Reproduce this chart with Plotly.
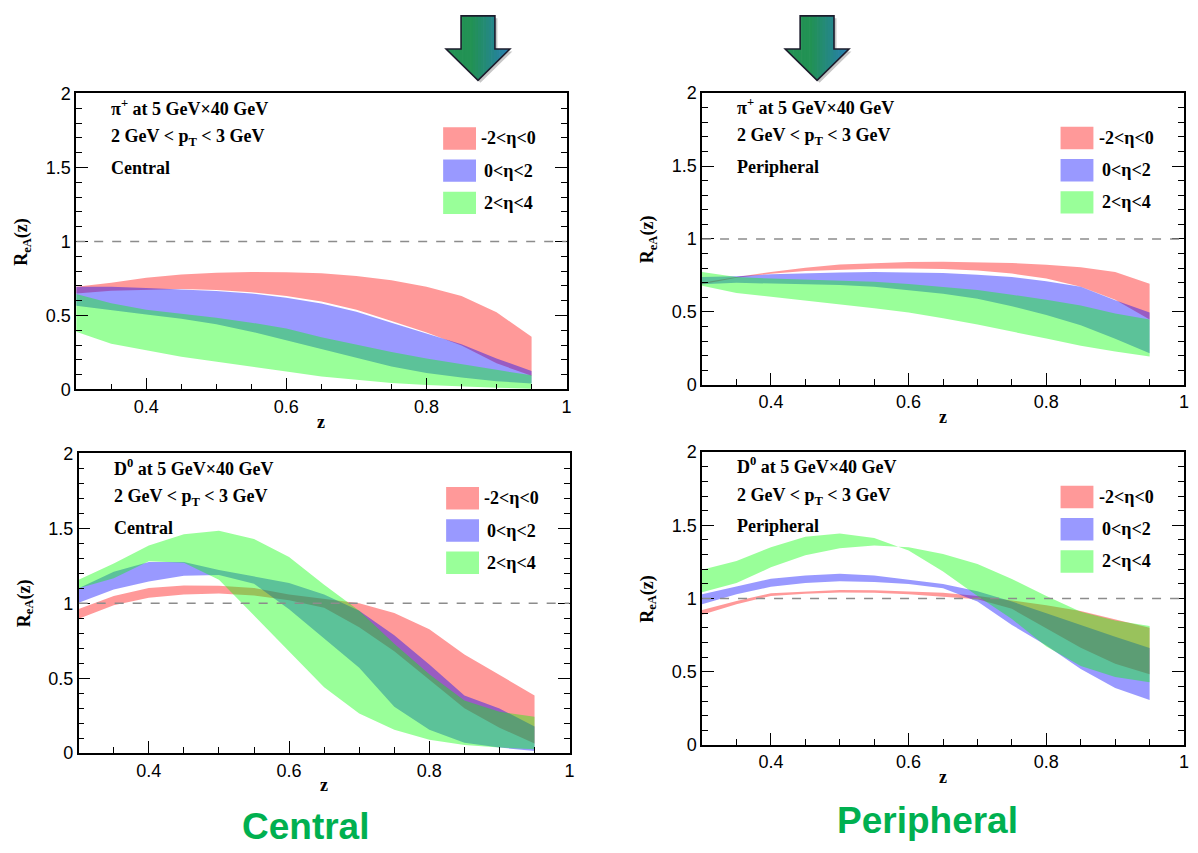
import plotly.graph_objects as go

W, H = 1198, 853

# ---------------- data ----------------
z = [0.30, 0.35, 0.40, 0.45, 0.50, 0.55, 0.60, 0.65, 0.70, 0.75, 0.80, 0.85, 0.90, 0.95]
band_names = ["-2<η<0", "0<η<2", "2<η<4"]

# pi+ central
pi_c_red_up = [0.693, 0.720, 0.755, 0.777, 0.788, 0.794, 0.792, 0.785, 0.766, 0.737, 0.693, 0.631, 0.521, 0.355]
pi_c_red_lo = [0.648, 0.667, 0.675, 0.678, 0.671, 0.656, 0.631, 0.594, 0.539, 0.462, 0.385, 0.297, 0.176, 0.092]
pi_c_blue_up = [0.693, 0.693, 0.686, 0.675, 0.665, 0.648, 0.620, 0.580, 0.525, 0.450, 0.375, 0.305, 0.209, 0.125]
pi_c_blue_lo = [0.565, 0.535, 0.506, 0.477, 0.440, 0.390, 0.335, 0.275, 0.213, 0.154, 0.110, 0.081, 0.055, 0.040]
pi_c_green_up = [0.645, 0.583, 0.539, 0.513, 0.484, 0.451, 0.411, 0.352, 0.301, 0.253, 0.209, 0.169, 0.132, 0.095]
pi_c_green_lo = [0.390, 0.308, 0.264, 0.220, 0.187, 0.154, 0.121, 0.088, 0.066, 0.044, 0.029, 0.020, 0.011, 0.005]

# pi+ peripheral
pi_p_red_up = [0.700, 0.740, 0.774, 0.803, 0.825, 0.836, 0.843, 0.845, 0.843, 0.836, 0.823, 0.807, 0.774, 0.693]
pi_p_red_lo = [0.690, 0.735, 0.762, 0.780, 0.789, 0.796, 0.798, 0.794, 0.785, 0.763, 0.729, 0.673, 0.584, 0.448]
pi_p_blue_up = [0.740, 0.745, 0.758, 0.767, 0.771, 0.774, 0.771, 0.767, 0.756, 0.740, 0.711, 0.673, 0.580, 0.497]
pi_p_blue_lo = [0.690, 0.700, 0.697, 0.691, 0.685, 0.673, 0.650, 0.625, 0.590, 0.540, 0.480, 0.410, 0.317, 0.218]
pi_p_green_up = [0.774, 0.740, 0.729, 0.722, 0.718, 0.707, 0.691, 0.673, 0.651, 0.618, 0.584, 0.544, 0.490, 0.448]
pi_p_green_lo = [0.680, 0.630, 0.604, 0.578, 0.550, 0.525, 0.497, 0.457, 0.414, 0.367, 0.318, 0.268, 0.230, 0.196]

# D0 central
d_c_red_up = [0.961, 1.048, 1.102, 1.119, 1.117, 1.102, 1.058, 1.030, 1.000, 0.935, 0.827, 0.658, 0.520, 0.385]
d_c_red_lo = [0.896, 0.987, 1.037, 1.058, 1.065, 1.052, 1.020, 0.970, 0.840, 0.680, 0.490, 0.300, 0.170, 0.065]
d_c_blue_up = [1.100, 1.210, 1.276, 1.276, 1.222, 1.178, 1.135, 1.059, 0.950, 0.787, 0.591, 0.385, 0.298, 0.178]
d_c_blue_lo = [1.004, 1.091, 1.146, 1.183, 1.189, 1.130, 0.960, 0.765, 0.570, 0.310, 0.157, 0.070, 0.037, 0.015]
d_c_green_up = [1.157, 1.265, 1.385, 1.461, 1.483, 1.428, 1.309, 1.124, 0.950, 0.730, 0.526, 0.352, 0.276, 0.243]
d_c_green_lo = [1.100, 1.167, 1.280, 1.270, 1.157, 0.917, 0.678, 0.440, 0.265, 0.157, 0.090, 0.054, 0.037, 0.026]

# D0 peripheral
d_p_red_up = [0.922, 0.984, 1.036, 1.049, 1.058, 1.056, 1.049, 1.040, 1.018, 0.985, 0.955, 0.915, 0.860, 0.800]
d_p_red_lo = [0.889, 0.962, 1.018, 1.033, 1.042, 1.040, 1.029, 1.013, 0.995, 0.930, 0.800, 0.665, 0.555, 0.484]
d_p_blue_up = [1.029, 1.084, 1.136, 1.158, 1.169, 1.158, 1.129, 1.100, 1.050, 0.980, 0.900, 0.818, 0.740, 0.662]
d_p_blue_lo = [0.962, 1.029, 1.080, 1.107, 1.118, 1.113, 1.100, 1.070, 0.980, 0.820, 0.680, 0.520, 0.390, 0.307]
d_p_green_up = [1.196, 1.256, 1.351, 1.422, 1.444, 1.413, 1.329, 1.184, 1.018, 0.860, 0.673, 0.540, 0.465, 0.429]
d_p_green_lo = [1.044, 1.107, 1.213, 1.296, 1.344, 1.362, 1.350, 1.305, 1.236, 1.133, 1.018, 0.910, 0.850, 0.813]

x_ticks = [0.4, 0.6, 0.8, 1.0]
y_ticks = [0, 0.5, 1, 1.5, 2]

# ---------------- styling ----------------
FILL = ["rgba(255,0,0,0.4)", "rgba(0,0,255,0.4)", "rgba(0,255,0,0.4)"]
LEG = ["rgb(255,153,153)", "rgb(153,153,255)", "rgb(153,255,153)"]
SERIF = "Liberation Serif, Times New Roman, serif"
SANS = "Liberation Sans, Arial, sans-serif"


def px(x):
    return x / W


def py(y):
    return 1 - y / H


# panel frames in pixels: left, right, top, bottom
panels = [
    dict(box=(76.5, 569, 85.5, 388.5), title="π<sup>+</sup> at 5 GeV×40 GeV", cent="Central",
         bands=[(pi_c_red_up, pi_c_red_lo), (pi_c_blue_up, pi_c_blue_lo), (pi_c_green_up, pi_c_green_lo)]),
    dict(box=(705, 1189, 85, 384), title="π<sup>+</sup> at 5 GeV×40 GeV", cent="Peripheral",
         bands=[(pi_p_red_up, pi_p_red_lo), (pi_p_blue_up, pi_p_blue_lo), (pi_p_green_up, pi_p_green_lo)]),
    dict(box=(79, 572, 454, 761), title="D<sup>0</sup> at 5 GeV×40 GeV", cent="Central",
         bands=[(d_c_red_up, d_c_red_lo), (d_c_blue_up, d_c_blue_lo), (d_c_green_up, d_c_green_lo)]),
    dict(box=(705, 1189, 452.7, 752.7), title="D<sup>0</sup> at 5 GeV×40 GeV", cent="Peripheral",
         bands=[(d_p_red_up, d_p_red_lo), (d_p_blue_up, d_p_blue_lo), (d_p_green_up, d_p_green_lo)]),
]

fig = go.Figure()
layout = dict(width=W, height=H, autosize=False, margin=dict(l=0, r=0, t=0, b=0),
              paper_bgcolor="white", plot_bgcolor="white", showlegend=False)
shapes = []
annotations = []

for i, p in enumerate(panels):
    n = "" if i == 0 else str(i + 1)
    xa, ya = "x" + n, "y" + n
    L, R, T, B = p["box"]
    for k, (up, lo) in enumerate(p["bands"]):
        fig.add_trace(go.Scatter(x=z + z[::-1], y=up + lo[::-1], mode="lines", fill="toself",
                                 fillcolor=FILL[k], line=dict(width=0), hoverinfo="skip",
                                 name=band_names[k], xaxis=xa, yaxis=ya))
    layout["xaxis" + n] = dict(
        domain=[px(L), px(R)], anchor=ya, range=[0.3, 1.0], tickvals=x_ticks,
        ticktext=["0.4", "0.6", "0.8", "1"], ticks="inside", ticklen=12, tickwidth=1,
        tickcolor="black", showline=True, linecolor="black", linewidth=1.5, mirror=True,
        showgrid=False, zeroline=False, tickfont=dict(family=SANS, size=18, color="black"),
        minor=dict(dtick=0.05, tick0=0, ticks="inside", ticklen=6, tickcolor="black", showgrid=False),
        fixedrange=True)
    layout["yaxis" + n] = dict(
        domain=[py(B), py(T)], anchor=xa, range=[0, 2], tickvals=y_ticks,
        ticktext=["0", "0.5", "1", "1.5", "2"], ticks="inside", ticklen=12, tickwidth=1,
        tickcolor="black", showline=True, linecolor="black", linewidth=1.5, mirror="allticks",
        showgrid=False, zeroline=False, tickfont=dict(family=SANS, size=18, color="black"),
        minor=dict(dtick=0.1, tick0=0, ticks="inside", ticklen=6, tickcolor="black", showgrid=False),
        fixedrange=True)
    # dashed reference line at R=1
    shapes.append(dict(type="line", xref=xa, yref=ya, x0=0.3, x1=1.0, y0=1, y1=1,
                       line=dict(color="rgb(140,140,140)", width=1.5, dash="dash"), layer="above"))
    # panel texts
    for j, t in enumerate([p["title"], "2 GeV &lt; p<sub>T</sub> &lt; 3 GeV", p["cent"]]):
        annotations.append(dict(xref="paper", yref="paper", x=px(L + 33), y=py(T + 14 + 31 * j),
                                xanchor="left", yanchor="middle", showarrow=False,
                                text="<b>" + t + "</b>", font=dict(family=SERIF, size=18, color="black")))
    # legend
    for k in range(3):
        top = T + 34.5 + 33 * k
        shapes.append(dict(type="rect", xref="paper", yref="paper", x0=px(R - 124), x1=px(R - 91),
                           y0=py(top + 23), y1=py(top), fillcolor=LEG[k], line=dict(width=0)))
        annotations.append(dict(xref="paper", yref="paper", x=px(R - 58), y=py(top + 11.5),
                                xanchor="center", yanchor="middle", showarrow=False,
                                text="<b>" + band_names[k].replace("<", "&lt;") + "</b>",
                                font=dict(family=SERIF, size=18, color="black")))
    # axis titles
    annotations.append(dict(xref="paper", yref="paper", x=px((L + R) / 2), y=py(B + 33),
                            xanchor="center", yanchor="middle", showarrow=False, text="<b>z</b>",
                            font=dict(family=SERIF, size=18, color="black")))
    annotations.append(dict(xref="paper", yref="paper", x=px(L - 54), y=py((T + B) / 2),
                            xanchor="center", yanchor="middle", showarrow=False, textangle=-90,
                            text="<b>R<sub>eA</sub>(z)</b>",
                            font=dict(family=SERIF, size=18, color="black")))

# big green captions
for txt, cx, cy in [("Central", 307, 836), ("Peripheral", 931, 830)]:
    annotations.append(dict(xref="paper", yref="paper", x=px(cx), y=py(cy), xanchor="center",
                            yanchor="middle", showarrow=False, text="<b>" + txt + "</b>",
                            font=dict(family=SANS, size=37, color="rgb(0,176,80)")))


# ---------------- arrows ----------------
def clip_slab(poly, xa_, xb_):
    def clip(pts, inside, inter):
        out = []
        for a in range(len(pts)):
            cur, prev = pts[a], pts[a - 1]
            if inside(cur):
                if not inside(prev):
                    out.append(inter(prev, cur))
                out.append(cur)
            elif inside(prev):
                out.append(inter(prev, cur))
        return out

    def ix(x0):
        return lambda p_, q_: (x0, p_[1] + (q_[1] - p_[1]) * (x0 - p_[0]) / (q_[0] - p_[0]))

    pts = clip(poly, lambda p_: p_[0] >= xa_, ix(xa_))
    if pts:
        pts = clip(pts, lambda p_: p_[0] <= xb_, ix(xb_))
    return pts


def to_path(pts):
    return "M " + " L ".join(f"{px(a):.5f},{py(b):.5f}" for a, b in pts) + " Z"


def arrow(cx):
    sw, hw = 17, 32
    return [(cx - sw, 6), (cx + sw, 6), (cx + sw, 40), (cx + hw, 40), (cx, 72), (cx - hw, 40), (cx - sw, 40)]


c0 = (34, 146, 84)
c1 = (40, 126, 182)
for cx in [480, 820.5]:
    poly = arrow(cx)
    shapes.append(dict(type="path", xref="paper", yref="paper",
                       path=to_path([(a + 2.5, b + 2.5) for a, b in poly]),
                       fillcolor="rgba(0,0,0,0.22)", line=dict(width=0)))
    N = 24
    left, right = cx - 32, cx + 32
    for s in range(N):
        xa_ = left + (right - left) * s / N
        xb_ = left + (right - left) * (s + 1) / N + 0.6
        f = (s + 0.5) / N
        t = max(0.0, (f - 0.4) / 0.6)
        col = tuple(int(c0[m] + (c1[m] - c0[m]) * t) for m in range(3))
        pts = clip_slab(poly, xa_, xb_)
        if len(pts) >= 3:
            shapes.append(dict(type="path", xref="paper", yref="paper", path=to_path(pts),
                               fillcolor=f"rgb{col}", line=dict(width=0)))
    shapes.append(dict(type="path", xref="paper", yref="paper", path=to_path(poly),
                       fillcolor="rgba(0,0,0,0)", line=dict(color="#1c1c2c", width=1.6)))

layout["shapes"] = shapes
layout["annotations"] = annotations
fig.update_layout(**layout)
fig.write_html("out.html")
